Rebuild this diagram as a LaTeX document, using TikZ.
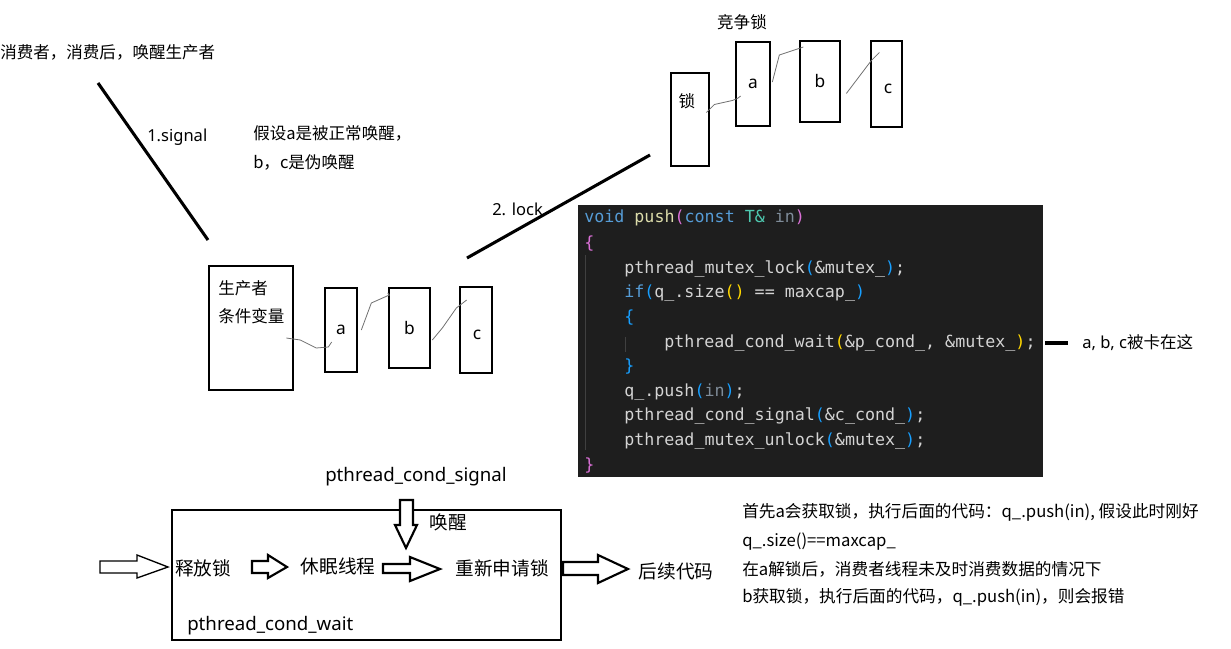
\documentclass[tikz,border=0pt]{standalone}
\usepackage{fontspec}
\setmainfont{Noto Sans CJK SC}
\newfontfamily\latin{Noto Sans}
\setmonofont{DejaVu Sans Mono}
\usetikzlibrary{calc,positioning}

\definecolor{codebg}{HTML}{1E1E1E}
\definecolor{codefg}{HTML}{D4D4D4}
\definecolor{kwblue}{HTML}{569CD6}
\definecolor{fnyel}{HTML}{DCDCAA}
\definecolor{tyteal}{HTML}{4EC9B0}
\definecolor{brmag}{HTML}{DA70D6}
\definecolor{brblue}{HTML}{179FFF}
\definecolor{bryel}{HTML}{FFD700}
\definecolor{dimpar}{HTML}{7F8C99}
\definecolor{guide}{HTML}{404040}
\definecolor{wiggle}{HTML}{707070}

\newcommand\kw[1]{\textcolor{kwblue}{#1}}
\newcommand\fnc[1]{\textcolor{fnyel}{#1}}
\newcommand\ty[1]{\textcolor{tyteal}{#1}}
\newcommand\bkm[1]{\textcolor{brmag}{#1}}
\newcommand\bkb[1]{\textcolor{brblue}{#1}}
\newcommand\bky[1]{\textcolor{bryel}{#1}}
\newcommand\dimv[1]{\textcolor{dimpar}{#1}}

\begin{document}
\begin{tikzpicture}[
    x=0.75pt, y=-0.75pt,
    txt/.style={inner sep=0, font=\fontsize{12.4}{14}\selectfont},
    big/.style={inner sep=0, font=\fontsize{14}{16}\selectfont},
    box/.style={draw, line width=2pt, inner sep=0, font=\latin\fontsize{13}{15}\selectfont},
    stroke/.style={line width=2.3pt},
    squig/.style={draw=wiggle, line width=0.6pt},
    hollow/.style={draw, line width=1.6pt, fill=white, line join=miter},
    code/.style={inner sep=0, anchor=base west, text=codefg,
      font=\ttfamily\fontsize{12.5}{14}\selectfont},
    ]
    \useasboundingbox (0,0) rectangle (1231,649);

    % signal from the consumer
    \node[txt, anchor=west] (cons) at (0,52) {消费者，消费后，唤醒生产者};
    \coordinate (s1) at (98,83);
    \coordinate (s2) at (208,240);
    \draw[stroke] (s1) -- (s2);
    \node[txt, anchor=west] (sig) at (147,137) {\latin 1.signal};

    \node[txt, anchor=west] (note1) at (253,133) {假设a是被正常唤醒，};
    \node[txt, anchor=west] (note2) at (253,162) {b，c是伪唤醒};

    % producer condition variable with its waiting queue
    \node[box, minimum width=63pt, minimum height=93pt] (pbox) at (251,328) {};
    \node[txt, anchor=west] (pname) at (218,288) {生产者};
    \node[txt, anchor=west] (pcond) at (218,316) {条件变量};
    \node[box, minimum width=24pt, minimum height=63pt] (pa) at (341,330) {a};
    \node[box, minimum width=30.75pt, minimum height=60pt] (pb) at (409.5,328) {b};
    \node[box, minimum width=24pt, minimum height=64.5pt] (pc) at (476,330) {};
    \node[txt] (pcl) at (477,335) {\latin\fontsize{13}{15}\selectfont c};

    \draw[squig] ($(pbox.east)+(-8,10)$) -- ++(14,2) -- ++(16,8) -- ++(12,-1)
      -- ($(pa.west)+(8,12)$);
    \draw[squig] ($(pa.east)+(3,0)$) -- ++(10,-27) -- ++(18,-8) -- ($(pb.west)+(0,-35)$);
    \draw[squig] ($(pb.east)+(1,12)$) -- ++(10,-12) -- ++(14,-20) -- ($(pc.west)+(8,-30)$);

    % competing for the lock
    \coordinate (l1) at (467,258);
    \coordinate (l2) at (650,155);
    \draw[stroke] (l1) -- (l2);
    \node[txt, anchor=west] (lock) at (492,209) {\latin 2. lock};

    \node[txt] (race) at (742,22) {竞争锁};
    \node[box, minimum width=28.5pt, minimum height=69.75pt] (lk) at (690,119.5) {};
    \node[txt] (lkl) at (687,101) {锁};
    \node[box, minimum width=25.5pt, minimum height=63pt] (la) at (753,84) {a};
    \node[box, minimum width=30pt, minimum height=60.75pt] (lb) at (820,81.5) {b};
    \node[box, minimum width=23.25pt, minimum height=64.5pt] (lc) at (886.5,84) {};
    \node[txt] (lcl) at (888,89) {\latin\fontsize{13}{15}\selectfont c};

    \draw[squig] ($(lk.east)+(-4,-7)$) -- ++(8,-8) -- ++(18,-4) -- ++(5,-2)
      -- ($(la.west)+(6,12)$);
    \draw[squig] ($(la.east)+(1,-2)$) -- ++(7,-27) -- ++(24,-8);
    \draw[squig] ($(lb.east)+(5,12)$) -- ++(25,-33) -- ++(8,-8);

    % the push function
    \node[fill=codebg, minimum width=348.75pt, minimum height=204pt, inner sep=0]
      (code) at (810.5,341) {};
    \draw[guide, line width=0.6pt] (585,255) -- (585,450);
    \draw[guide, line width=0.6pt] (625,337) -- (625,352);
    \node[code] (c1) at (584,223) {\kw{void} \fnc{push}\bkm{(}\kw{const} \ty{T\&} \dimv{in}\bkm{)}};
    \node[code] (c2) at (584,248) {\bkm{\{}};
    \node[code] (c3) at (624,273) {pthread\_mutex\_lock\bkb{(}\&mutex\_\bkb{)};};
    \node[code] (c4) at (624,297) {\kw{if}\bkb{(}q\_.size\bky{()} == maxcap\_\bkb{)}};
    \node[code] (c5) at (624,322) {\bkb{\{}};
    \node[code] (c6) at (664,347) {pthread\_cond\_wait\bky{(}\&p\_cond\_, \&mutex\_\bky{)};};
    \node[code] (c7) at (624,371) {\bkb{\}}};
    \node[code] (c8) at (624,396) {q\_.push\bkb{(}\dimv{in}\bkb{)};};
    \node[code] (c9) at (624,420) {pthread\_cond\_signal\bkb{(}\&c\_cond\_\bkb{)};};
    \node[code] (c10) at (624,445) {pthread\_mutex\_unlock\bkb{(}\&mutex\_\bkb{)};};
    \node[code] (c11) at (584,470) {\bkm{\}}};

    \node[txt, anchor=west] (stuck) at (1082,343) {\latin a, b, c\normalfont 被卡在这};
    \draw[line width=3pt] ($(stuck.west)+(-37,0)$) -- ($(stuck.west)+(-14,0)$);

    % what pthread_cond_wait does
    \node[draw, line width=1.1pt, minimum width=291.75pt, minimum height=97.5pt, inner sep=0]
      (wbox) at (366.5,575) {};
    \node[big] (csig) at (416,477) {\latin pthread\_cond\_signal};
    \node[big, anchor=west] (cwait) at (187,626) {\latin pthread\_cond\_wait};
    \node[big] (wake) at (448,522) {唤醒};
    \node[big] (rel) at (203,568) {释放锁};
    \node[big] (sleep) at (338,566) {休眠线程};
    \node[big] (reacq) at (502,568) {重新申请锁};
    \node[big] (after) at (676,571) {后续代码};

    \draw[hollow, line width=1pt] (100,561) -- (137,561) -- (137,555) -- (168,567)
      -- (137,578) -- (137,573) -- (100,573) -- cycle;
    \draw[hollow] (252,561) -- (268,561) -- (268,555) -- (287,567)
      -- (268,578) -- (268,573) -- (252,573) -- cycle;
    \draw[hollow] (383,564) -- (410,564) -- (410,557) -- (440,569)
      -- (410,581) -- (410,573) -- (383,573) -- cycle;
    \draw[hollow] (400,500) -- (413,500) -- (413,525) -- (417,525) -- (406,548)
      -- (395,525) -- (400,525) -- cycle;
    \draw[hollow] (563,562) -- (598,562) -- (598,555) -- (628,569)
      -- (598,583) -- (598,575) -- (563,575) -- cycle;

    % what happens next
    \node[txt, anchor=west, font=\fontsize{12.5}{14}\selectfont] (e1) at (742,512)
      {首先a会获取锁，执行后面的代码：q\_.push(in), 假设此时刚好};
    \node[txt, anchor=west, font=\fontsize{12.5}{14}\selectfont] (e2) at (742,542)
      {q\_.size()==maxcap\_};
    \node[txt, anchor=west, font=\fontsize{12.5}{14}\selectfont] (e3) at (742,569)
      {在a解锁后，消费者线程未及时消费数据的情况下};
    \node[txt, anchor=west, font=\fontsize{12.5}{14}\selectfont] (e4) at (742,597)
      {b获取锁，执行后面的代码，q\_.push(in)，则会报错};
\end{tikzpicture}
\end{document}
